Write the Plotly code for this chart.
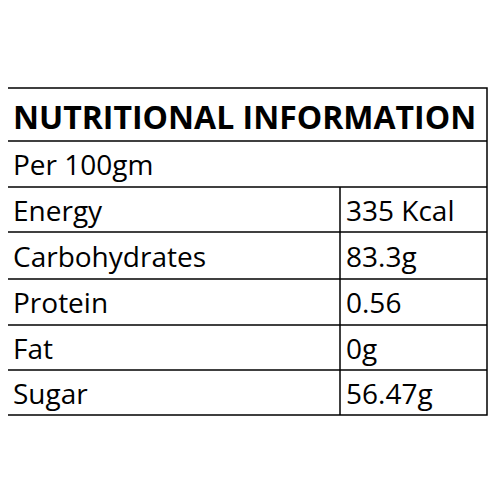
import plotly.graph_objects as go

title = "NUTRITIONAL INFORMATION"
subtitle = "Per 100gm"
nutrients = ["Energy", "Carbohydrates", "Protein", "Fat", "Sugar"]
amounts = ["335 Kcal", "83.3g", "0.56", "0g", "56.47g"]

off = 8
x0, x1, xdiv = 5 - off, 487 - off, 340 - off
row_edges = [e - off for e in [88, 141, 187, 232, 279, 325, 370, 415]]

fig = go.Figure()
shapes = [dict(type="rect", x0=x0, x1=x1, y0=row_edges[0], y1=row_edges[-1],
               line=dict(color="black", width=1.5))]
for y in row_edges[1:-1]:
    shapes.append(dict(type="line", x0=x0, x1=x1, y0=y, y1=y, line=dict(color="black", width=1.5)))
shapes.append(dict(type="line", x0=xdiv, x1=xdiv, y0=row_edges[2], y1=row_edges[-1],
                   line=dict(color="black", width=1.5)))

font = "Open Sans, sans-serif"
tx = 11 - off
ann = [dict(x=tx, y=(row_edges[0]+row_edges[1])/2 + 2, text="<b>"+title+"</b>", showarrow=False,
            xanchor="left", yanchor="middle", font=dict(size=32, color="black", family=font)),
       dict(x=tx, y=(row_edges[1]+row_edges[2])/2, text=subtitle, showarrow=False,
            xanchor="left", yanchor="middle", font=dict(size=28, color="black", family=font))]
for i, (n, a) in enumerate(zip(nutrients, amounts)):
    yc = (row_edges[i+2] + row_edges[i+3]) / 2
    ann.append(dict(x=tx, y=yc, text=n, showarrow=False, xanchor="left", yanchor="middle",
                    font=dict(size=28, color="black", family=font)))
    ann.append(dict(x=xdiv+4, y=yc, text=a, showarrow=False, xanchor="left", yanchor="middle",
                    font=dict(size=28, color="black", family=font)))

fig.update_layout(width=500, height=500, margin=dict(l=0, r=0, t=0, b=0),
                  paper_bgcolor="white", plot_bgcolor="white", shapes=shapes, annotations=ann,
                  xaxis=dict(range=[0, 500], visible=False, fixedrange=True),
                  yaxis=dict(range=[500, 0], visible=False, fixedrange=True),
                  showlegend=False)
fig.write_html("out.html")
